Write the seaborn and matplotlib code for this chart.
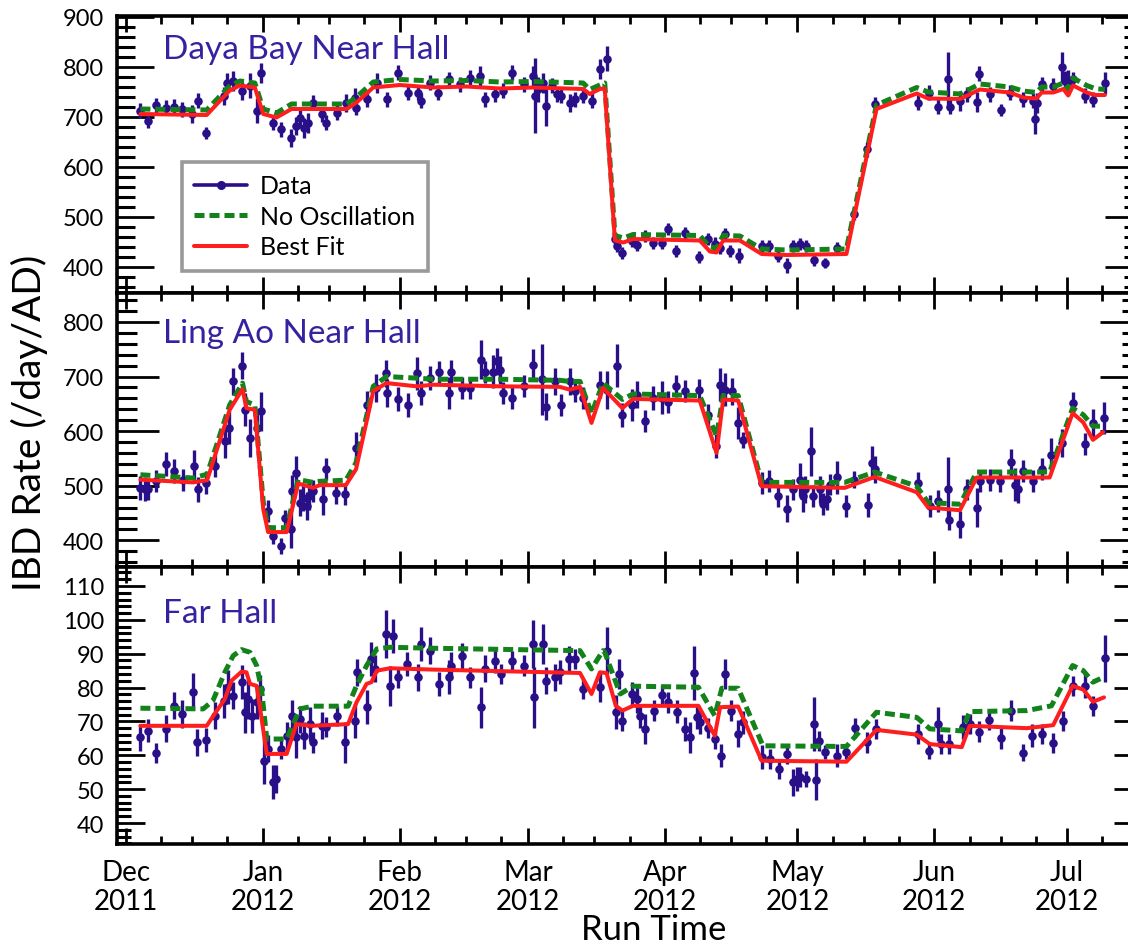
import numpy as np
import pandas as pd
import matplotlib
matplotlib.use("Agg")
import matplotlib.pyplot as plt
import matplotlib.dates as mdates
from matplotlib.lines import Line2D
from matplotlib.ticker import MultipleLocator
import seaborn as sns

sns.set_style("ticks")
plt.rcParams["font.family"] = ["Lato", "DejaVu Sans"]
plt.rcParams["text.color"] = "black"
plt.rcParams["xtick.color"] = "black"
plt.rcParams["ytick.color"] = "black"
plt.rcParams["axes.edgecolor"] = "black"

# Day offsets are counted from the start of December 2011
RUN_START = pd.Timestamp("2011-12-01")

# ---------------- Daya Bay near hall ----------------
eh1_day = [3.3, 5.0, 6.8, 9.1, 10.9, 12.8, 14.9, 16.4, 18.1, 22.2,
           22.9, 24.3, 26.4, 28.2, 29.6, 30.6, 33.2, 35.2, 37.3, 38.6,
           39.4, 40.3, 41.3, 42.4, 44.5, 45.4, 47.7, 49.8, 51.8, 52.2,
           54.5, 56.8, 59.0, 61.6, 63.9, 66.2, 66.7, 68.8, 70.7, 73.2,
           75.6, 77.9, 80.1, 81.3, 83.5, 85.4, 87.5, 90.1, 92.2, 92.6,
           93.3, 94.5, 95.2, 96.4, 97.5, 98.6, 100.5, 101.6, 103.4, 105.4,
           107.3, 108.8, 110.7, 111.2, 112.4, 114.5, 115.7, 117.5, 119.4, 121.3,
           122.8, 124.5, 126.5, 129.8, 131.8, 133.3, 134.5, 135.6, 136.7, 138.8,
           144.1, 145.6, 147.7, 149.7, 150.9, 152.6, 153.9, 155.7, 158.2, 160.9,
           164.8, 167.7, 169.5, 179.2, 181.8, 183.9, 186.1, 186.5, 188.8, 190.3,
           192.6, 193.1, 195.6, 198.0, 200.1, 203.0, 205.4, 205.8, 206.3, 207.3,
           209.9, 212.0, 212.5, 213.3, 214.4, 217.1, 218.9, 221.6]
eh1_rate = [713, 693, 724, 719, 721, 716, 706, 733, 669, 743,
            769, 773, 753, 763, 713, 788, 689, 676, 659, 683,
            699, 679, 689, 729, 706, 689, 709, 729, 739, 719,
            736, 769, 736, 789, 749, 749, 733, 769, 749, 776,
            766, 779, 783, 736, 746, 753, 789, 766, 783, 743,
            756, 769, 723, 763, 746, 743, 729, 736, 743, 733,
            796, 817, 456, 443, 429, 453, 444, 463, 449, 449,
            476, 433, 469, 421, 457, 446, 439, 466, 433, 423,
            443, 443, 423, 404, 443, 446, 443, 415, 409, 439,
            506, 636, 726, 729, 749, 721, 776, 721, 733, 746,
            731, 787, 746, 714, 749, 736, 733, 696, 729, 766,
            763, 801, 773, 769, 776, 743, 735, 769]
eh1_err = [15, 15, 15, 15, 15, 15, 18, 15, 12, 18,
           20, 20, 18, 25, 25, 20, 15, 15, 18, 18,
           20, 20, 20, 15, 15, 15, 15, 18, 20, 15,
           15, 20, 15, 15, 15, 15, 15, 15, 15, 15,
           15, 15, 20, 15, 15, 15, 15, 15, 20, 75,
           25, 20, 40, 15, 15, 15, 18, 15, 15, 15,
           20, 25, 12, 12, 12, 12, 12, 12, 12, 12,
           12, 12, 12, 12, 12, 15, 12, 12, 12, 15,
           12, 12, 12, 15, 12, 12, 12, 12, 10, 12,
           12, 15, 15, 15, 15, 15, 55, 15, 20, 15,
           20, 15, 15, 12, 15, 15, 15, 30, 20, 15,
           15, 30, 20, 25, 15, 15, 15, 22]
eh1_model_day = [3.3, 18.3, 23.5, 25.8, 29.2, 31.1, 34.1, 37.5, 50.0, 52.2,
                 56.0, 62.0, 69.6, 77.1, 84.7, 92.2, 103.5, 105.0, 107.3, 108.4,
                 110.7, 112.6, 114.8, 129.9, 132.2, 133.7, 135.2, 139.0, 143.9, 149.6,
                 163.1, 169.9, 179.0, 181.6, 188.8, 193.3, 200.1, 203.1, 206.1, 207.3,
                 209.9, 212.2, 213.3, 214.4, 217.5, 219.3, 221.6]
eh1_best_fit = [706, 704, 753, 763, 759, 706, 699, 716, 716, 729,
                759, 764, 759, 761, 757, 759, 756, 746, 756, 757,
                453, 449, 456, 453, 431, 429, 453, 453, 426, 424,
                426, 716, 747, 737, 736, 755, 749, 739, 737, 749,
                749, 756, 743, 763, 749, 744, 744]
eh1_no_osc = [716, 714, 762, 772, 768, 716, 708, 726, 726, 740,
              770, 775, 772, 773, 770, 771, 768, 755, 764, 768,
              463, 458, 465, 463, 440, 438, 463, 462, 436, 434,
              436, 724, 759, 750, 746, 766, 760, 752, 749, 760,
              760, 768, 755, 778, 763, 757, 755]

# ---------------- Ling Ao near hall ----------------
eh2_day = [3.3, 4.3, 5.0, 6.8, 9.2, 10.9, 13.0, 15.4, 16.4, 18.1,
           20.1, 22.4, 23.4, 24.3, 26.2, 26.9, 28.1, 29.6, 30.5, 32.2,
           33.3, 35.2, 36.0, 37.3, 37.7, 38.6, 39.4, 40.1, 40.9, 41.5,
           42.4, 44.7, 45.4, 47.5, 49.6, 52.1, 54.5, 56.6, 58.9, 59.0,
           61.6, 63.9, 65.9, 66.7, 68.8, 70.9, 73.2, 73.7, 76.0, 77.9,
           80.3, 81.3, 83.1, 83.9, 84.7, 85.3, 87.5, 90.1, 92.2, 94.1,
           95.2, 97.1, 98.4, 100.5, 101.6, 103.5, 107.3, 108.8, 111.1, 112.4,
           114.5, 115.7, 117.5, 119.4, 121.3, 122.8, 124.5, 126.5, 129.8, 131.8,
           133.5, 134.5, 135.6, 137.1, 138.6, 139.6, 144.0, 145.6, 147.7, 149.7,
           150.9, 152.6, 153.2, 153.7, 155.0, 155.6, 157.1, 157.7, 158.6, 159.4,
           160.9, 162.9, 164.8, 167.9, 169.0, 169.5, 179.2, 182.0, 183.9, 186.1,
           186.4, 188.8, 190.3, 192.6, 193.3, 195.6, 197.8, 200.3, 201.2, 202.0,
           203.0, 205.4, 207.3, 209.5, 212.0, 214.3, 217.1, 218.9, 221.4]
eh2_rate = [496, 494, 493, 508, 539, 527, 511, 536, 493, 505,
            536, 581, 606, 691, 720, 639, 588, 606, 636, 454,
            408, 390, 441, 420, 490, 524, 469, 478, 463, 481,
            490, 476, 530, 486, 484, 569, 648, 679, 706, 670,
            658, 648, 706, 670, 697, 709, 670, 709, 679, 679,
            731, 709, 709, 728, 712, 670, 661, 682, 721, 695,
            645, 691, 648, 691, 673, 661, 685, 676, 720, 630,
            648, 667, 618, 661, 661, 654, 682, 673, 676, 630,
            572, 685, 676, 673, 615, 584, 505, 508, 481, 458,
            493, 511, 481, 493, 563, 481, 493, 466, 475, 502,
            515, 463, 511, 464, 542, 530, 505, 463, 472, 493,
            438, 429, 493, 460, 508, 511, 508, 543, 502, 493,
            527, 508, 530, 557, 578, 651, 577, 615, 624]
eh2_err = [22, 22, 20, 20, 22, 22, 20, 30, 22, 20,
           20, 30, 30, 25, 25, 30, 35, 35, 35, 20,
           15, 15, 15, 35, 30, 30, 25, 25, 25, 25,
           20, 30, 20, 20, 20, 30, 25, 25, 25, 25,
           22, 22, 30, 22, 22, 20, 30, 22, 20, 20,
           35, 20, 30, 25, 25, 20, 20, 20, 30, 65,
           25, 25, 20, 25, 20, 20, 25, 35, 40, 22,
           30, 25, 20, 22, 30, 20, 20, 20, 20, 20,
           22, 30, 30, 25, 30, 15, 20, 20, 20, 25,
           20, 30, 30, 25, 45, 20, 25, 20, 20, 20,
           30, 20, 15, 22, 30, 25, 20, 20, 20, 60,
           20, 25, 20, 35, 20, 20, 20, 25, 30, 25,
           20, 20, 20, 30, 25, 20, 20, 25, 30]
eh2_model_day = [3.3, 15.2, 18.4, 23.5, 26.4, 27.3, 29.2, 31.1, 32.2, 36.4,
                 39.0, 42.4, 43.9, 49.8, 52.1, 56.0, 59.0, 65.8, 69.6, 84.7,
                 98.2, 100.5, 102.8, 105.4, 108.0, 112.4, 114.8, 129.9, 133.7, 135.2,
                 138.6, 143.9, 162.7, 169.5, 179.0, 181.6, 188.8, 192.6, 209.1, 214.3,
                 216.7, 218.9, 221.2]
eh2_best_fit = [511, 506, 510, 639, 677, 642, 639, 457, 415, 415,
                504, 496, 501, 501, 530, 673, 688, 682, 685, 682,
                681, 676, 681, 615, 679, 642, 659, 656, 560, 658,
                656, 499, 496, 516, 488, 460, 455, 515, 515, 633,
                616, 584, 598]
eh2_no_osc = [520, 514, 521, 648, 688, 654, 648, 470, 423, 423,
              511, 506, 508, 510, 542, 682, 700, 697, 695, 695,
              693, 691, 691, 632, 688, 658, 668, 665, 591, 665,
              665, 506, 506, 525, 499, 469, 466, 525, 525, 642,
              630, 609, 609]

# ---------------- Far hall ----------------
eh3_day = [3.3, 5.0, 6.8, 9.1, 10.9, 12.8, 15.2, 16.1, 18.1, 20.1,
           22.2, 23.2, 24.3, 26.2, 26.9, 27.7, 28.5, 29.6, 30.3, 31.2,
           32.2, 33.3, 34.1, 35.2, 36.4, 37.5, 38.6, 39.4, 40.3, 41.6,
           42.4, 44.5, 45.4, 47.7, 49.6, 51.8, 52.4, 54.5, 55.6, 56.4,
           58.9, 59.8, 60.5, 61.6, 63.7, 66.2, 66.9, 68.8, 70.9, 73.2,
           73.7, 76.0, 77.9, 80.3, 81.3, 83.5, 85.0, 87.3, 90.1, 92.2,
           92.3, 94.5, 95.2, 97.1, 98.2, 100.3, 101.6, 103.4, 107.3, 108.8,
           110.9, 111.7, 112.4, 114.5, 115.7, 116.3, 117.5, 119.5, 121.3, 122.8,
           124.7, 126.5, 127.7, 128.6, 129.2, 129.9, 131.8, 133.3, 134.6, 135.6,
           136.9, 138.6, 139.6, 144.1, 145.8, 147.9, 149.6, 150.9, 151.8, 152.7,
           153.9, 155.7, 156.2, 156.9, 158.2, 161.0, 163.1, 165.0, 167.8, 169.8,
           179.2, 181.8, 183.9, 184.6, 186.4, 189.4, 191.0, 193.1, 195.4, 198.0,
           200.3, 203.0, 205.2, 207.3, 209.9, 212.2, 214.3, 217.1, 218.9, 221.6]
eh3_rate = [65.3, 67.3, 60.6, 67.8, 74.6, 72.2, 78.8, 63.8, 64.6, 71.7,
            76.1, 80.1, 77.6, 81.6, 72.7, 76.6, 71.7, 75.6, 79.6, 58.4,
            61.9, 52.0, 53.0, 61.9, 65.8, 71.7, 65.3, 70.7, 65.8, 69.2,
            63.8, 68.7, 68.3, 71.7, 63.8, 70.2, 84.5, 74.2, 88.4, 85.5,
            95.8, 80.5, 95.3, 83.0, 87.0, 83.0, 92.9, 90.9, 81.1, 83.0,
            86.5, 89.2, 83.0, 74.2, 85.5, 87.9, 84.0, 87.9, 86.5, 92.9,
            77.1, 92.9, 82.0, 83.0, 84.5, 88.4, 88.4, 79.6, 80.1, 90.9,
            72.7, 84.0, 70.2, 78.1, 76.6, 71.7, 67.8, 73.2, 77.8, 75.6,
            72.9, 67.8, 65.3, 84.3, 71.2, 69.9, 68.0, 64.8, 59.9, 84.0,
            73.2, 66.3, 69.7, 59.4, 58.9, 55.9, 60.4, 52.0, 53.0, 53.5,
            53.0, 69.2, 52.8, 64.3, 60.9, 59.9, 60.9, 68.0, 63.8, 67.8,
            66.3, 61.4, 69.2, 63.3, 63.3, 68.3, 69.2, 67.0, 70.5, 65.0,
            73.2, 60.7, 65.8, 66.3, 63.6, 70.2, 80.5, 80.4, 74.5, 88.6]
eh3_err = [4, 3.5, 3, 4, 4, 4, 5.5, 4, 3.5, 4,
           5, 5, 4, 5, 6, 6, 5, 5, 4, 7,
           4, 5, 4, 3, 4, 4.5, 6, 4, 4, 5,
           3, 4, 3, 3, 6, 5, 4, 5, 5, 4,
           7, 6, 5, 3, 3.5, 4, 5, 4, 3.5, 5,
           4, 4, 3, 6, 4, 3.5, 3, 3, 3, 7,
           9, 6, 4, 4, 3.5, 4, 3, 3, 4.5, 7,
           5, 4.5, 3, 3.5, 4, 3.5, 4.5, 3, 3, 3,
           3.5, 3.5, 4.5, 8, 3.5, 3.5, 3, 3, 3.5, 4.5,
           3, 4, 3.5, 3.5, 3, 3, 3, 4, 3.5, 3,
           2.5, 8, 6, 3, 2, 3.5, 2, 3, 3, 3,
           3, 2.5, 5, 3, 3, 3.5, 3, 3, 3, 3,
           3, 2.5, 3.5, 3, 3, 3, 3, 3.5, 3, 7]
eh3_fit_day = [3.3, 18.3, 20.1, 22.4, 23.9, 26.2, 27.3, 28.1, 29.6, 30.3,
               31.9, 36.4, 38.6, 42.0, 50.3, 52.2, 54.5, 55.6, 56.8, 59.8,
               69.6, 102.8, 105.4, 107.3, 108.8, 110.9, 112.4, 114.8, 129.6, 133.3,
               134.5, 138.6, 143.9, 163.1, 169.9, 179.0, 182.0, 189.2, 191.0, 203.9,
               209.9, 214.3, 216.7, 218.9, 221.4]
eh3_best_fit = [68.7, 68.7, 72.2, 76.6, 82.0, 84.7, 84.5, 81.1, 80.5, 74.6,
                60.4, 60.4, 69.2, 68.7, 69.2, 75.6, 81.1, 81.6, 85.0, 85.7,
                85.3, 84.3, 78.1, 84.5, 84.3, 74.6, 73.2, 74.6, 74.6, 65.8,
                74.2, 74.4, 58.4, 58.1, 67.5, 66.1, 63.3, 62.4, 68.7, 68.0,
                68.9, 80.5, 79.4, 75.8, 77.1]
eh3_noosc_day = [3.3, 17.5, 19.7, 22.4, 24.3, 26.2, 28.1, 29.6, 30.7, 31.9,
                 36.4, 39.4, 42.4, 50.3, 52.2, 54.5, 56.8, 59.8, 69.6, 102.8,
                 105.4, 108.0, 108.4, 111.9, 114.8, 129.6, 133.3, 134.9, 138.6, 144.2,
                 163.1, 169.9, 179.0, 182.0, 189.2, 191.0, 203.9, 209.5, 214.3, 216.7,
                 218.9, 221.2]
eh3_no_osc = [73.9, 73.7, 76.1, 84.5, 89.4, 91.2, 90.4, 86.5, 79.6, 64.8,
              64.8, 73.7, 74.5, 74.5, 80.5, 86.5, 91.4, 91.9, 91.6, 90.9,
              85.5, 90.9, 90.4, 78.1, 80.4, 80.1, 71.7, 79.8, 79.8, 62.8,
              62.6, 72.7, 71.2, 67.8, 67.2, 72.9, 73.2, 74.6, 86.5, 85.0,
              81.6, 83.0]

hall_names = ["Daya Bay Near Hall", "Ling Ao Near Hall", "Far Hall"]
month_starts = pd.date_range("2011-12-01", "2012-07-01", freq="MS")
month_labels = [d.strftime("%b\n%Y") for d in month_starts]

DATA_COLOR = "#2a1088"
LABEL_COLOR = "#3522a0"
NOOSC_COLOR = "#13821a"
FIT_COLOR = "#ff1e1e"


def to_dates(days):
    return RUN_START + pd.to_timedelta(np.asarray(days, dtype=float), unit="D")


W, H = 1128, 945
fig = plt.figure(figsize=(W / 100, H / 100), dpi=100)


def panel_rect(top, bottom, left=117, right=1142):
    return [left / W, 1 - bottom / H, (right - left) / W, (bottom - top) / H]


panels = [
    dict(rect=panel_rect(17, 294), ylim=(348, 902), major=100, minor=20,
         ylen=(26.5, 13), title_y=0.848,
         data=(eh1_day, eh1_rate, eh1_err),
         fit=(eh1_model_day, eh1_best_fit), noosc=(eh1_model_day, eh1_no_osc)),
    dict(rect=panel_rect(294, 568), ylim=(351, 853), major=100, minor=20,
         ylen=(30, 14.5), title_y=0.821,
         data=(eh2_day, eh2_rate, eh2_err),
         fit=(eh2_model_day, eh2_best_fit), noosc=(eh2_model_day, eh2_no_osc)),
    dict(rect=panel_rect(568, 845), ylim=(33.8, 115.6), major=10, minor=2,
         ylen=(20, 10), title_y=0.801,
         data=(eh3_day, eh3_rate, eh3_err),
         fit=(eh3_fit_day, eh3_best_fit), noosc=(eh3_noosc_day, eh3_no_osc)),
]

axes = []
for p, name in zip(panels, hall_names):
    ax = fig.add_axes(p["rect"], sharex=axes[0] if axes else None)
    axes.append(ax)

    day, rate, err = p["data"]
    dates = to_dates(day)
    ax.errorbar(dates, rate, yerr=err, fmt="none", ecolor=DATA_COLOR,
                elinewidth=2.4, capsize=0, zorder=2)
    sns.scatterplot(x=dates, y=rate, ax=ax, color=DATA_COLOR, s=38,
                    linewidth=0, zorder=3, legend=False)

    nx, ny = p["noosc"]
    sns.lineplot(x=to_dates(nx), y=ny, ax=ax, color=NOOSC_COLOR, lw=3.6,
                 linestyle=(0, (2.0, 1.0)), sort=False, estimator=None,
                 zorder=4, legend=False)
    fx, fy = p["fit"]
    sns.lineplot(x=to_dates(fx), y=fy, ax=ax, color=FIT_COLOR, lw=2.9,
                 sort=False, estimator=None, zorder=5, legend=False)

    ax.set_ylim(*p["ylim"])
    ax.yaxis.set_major_locator(MultipleLocator(p["major"]))
    ax.yaxis.set_minor_locator(MultipleLocator(p["minor"]))
    ax.set_xlabel("")
    ax.set_ylabel("")

    ax.tick_params(axis="y", which="major", direction="in", left=True,
                   right=True, length=p["ylen"][0], width=2.0, labelsize=17,
                   pad=9.5, color="black", labelcolor="black")
    ax.tick_params(axis="y", which="minor", direction="in", left=True,
                   right=True, length=p["ylen"][1], width=2.2, color="black")
    ax.tick_params(axis="x", which="major", direction="in", top=True,
                   bottom=True, length=11.5, width=2.0, labelsize=20, pad=10.5,
                   color="black", labelcolor="black")
    ax.tick_params(axis="x", which="minor", direction="in", top=True,
                   bottom=True, length=5.8, width=2.0, color="black")
    for s in ax.spines.values():
        s.set_linewidth(2.6)
        s.set_color("black")

    ax.text(0.045, p["title_y"], name, transform=ax.transAxes, fontsize=24,
            color=LABEL_COLOR, ha="left", va="baseline")

ax_bottom = axes[-1]
ax_bottom.set_xlim(RUN_START - pd.Timedelta(days=2.0),
                   RUN_START + pd.Timedelta(days=230.0))
ax_bottom.set_xticks(month_starts)
ax_bottom.set_xticklabels(month_labels, linespacing=1.15)
ax_bottom.xaxis.set_minor_locator(mdates.MonthLocator(bymonthday=[9, 16, 24]))
for ax in axes[:-1]:
    ax.tick_params(axis="x", which="both", labelbottom=False)

legend_handles = [
    Line2D([], [], color=DATA_COLOR, lw=2.6, marker="o", markersize=5.5),
    Line2D([], [], color=NOOSC_COLOR, lw=3.6, linestyle=(0, (2.0, 1.0))),
    Line2D([], [], color=FIT_COLOR, lw=2.9),
]
leg = axes[0].legend(legend_handles, ["Data", "No Oscillation", "Best Fit"],
                     loc="upper left", bbox_to_anchor=(0.0634, 0.473),
                     borderaxespad=0, fontsize=18, frameon=True,
                     fancybox=False, handlelength=2.1, handletextpad=0.52,
                     borderpad=0.5, labelspacing=0.3, numpoints=1)
leg.get_frame().set_edgecolor("#9a9a9a")
leg.get_frame().set_linewidth(2.6)
leg.get_frame().set_facecolor("white")
leg.get_frame().set_alpha(1.0)
for t in leg.get_texts():
    t.set_color("black")

fig.text(29 / W, 1 - 423 / H, "IBD Rate (/day/AD)", rotation=90,
         fontsize=28, ha="center", va="center", color="black")
fig.text(654 / W, 1 - 940 / H, "Run Time", fontsize=25, ha="center",
         va="baseline", color="black")

fig.savefig("out.png", dpi=100)
